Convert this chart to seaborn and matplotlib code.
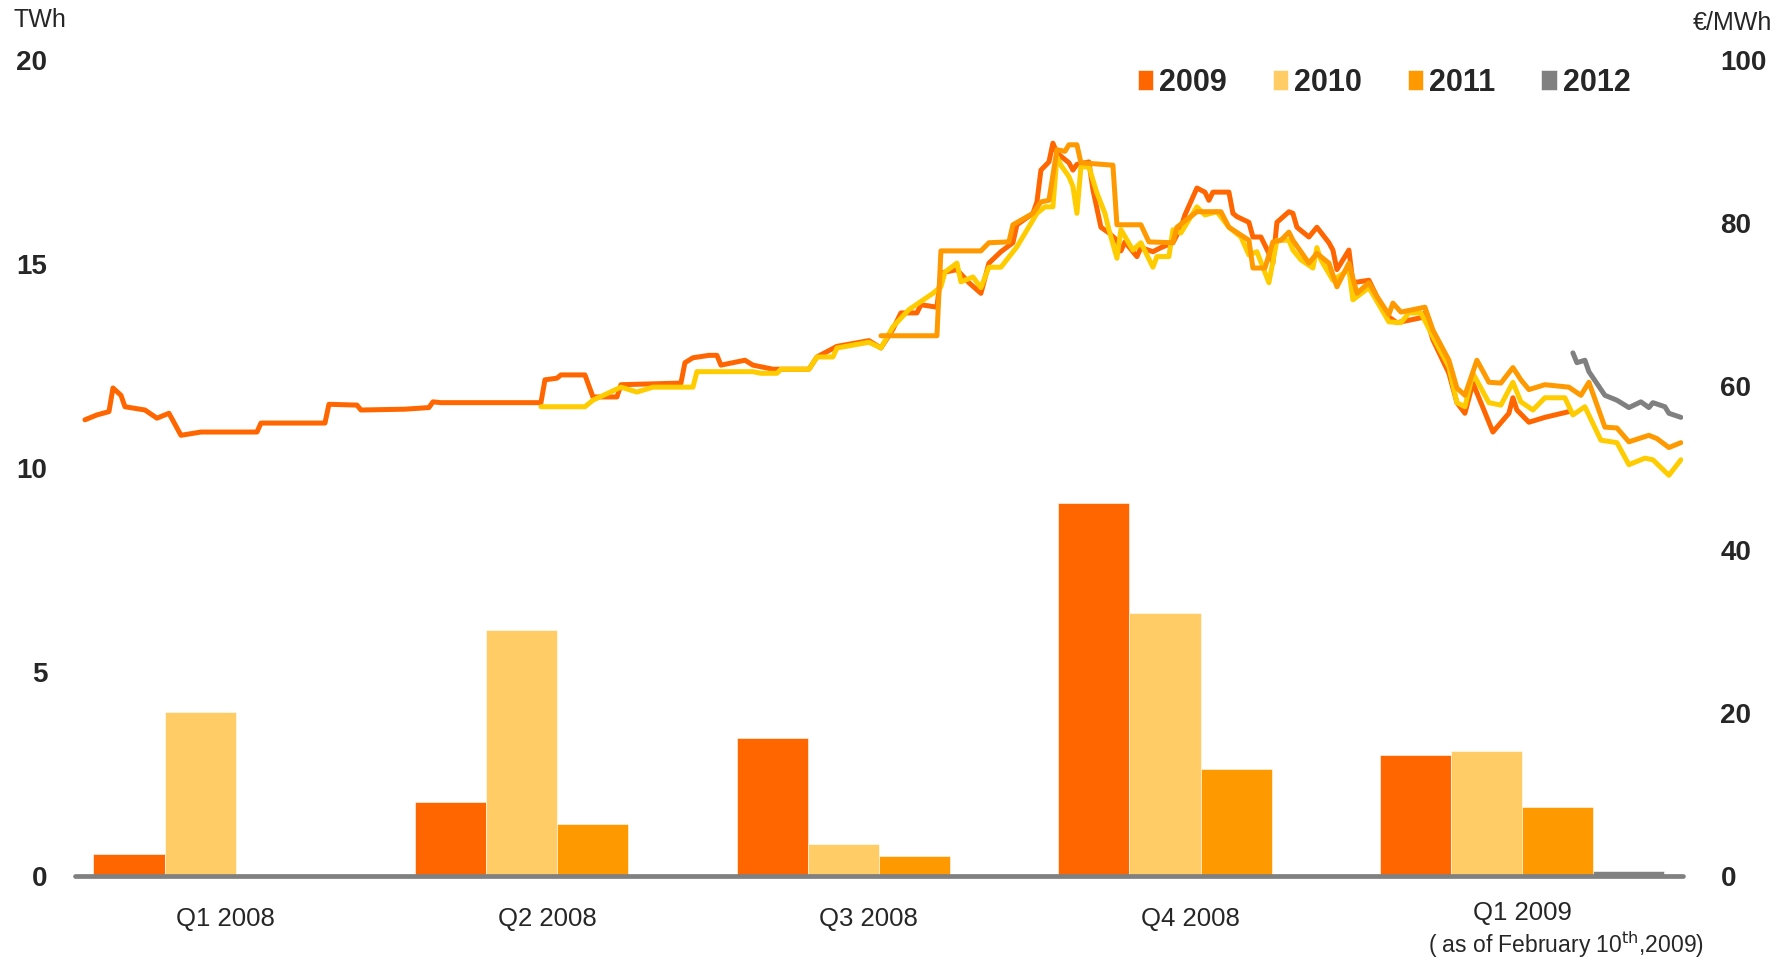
import numpy as np
import pandas as pd
import matplotlib
matplotlib.use("Agg")
import matplotlib.pyplot as plt
import matplotlib.transforms as mtransforms
import seaborn as sns

# ------------------------------------------------------------------
# data
# ------------------------------------------------------------------
quarters = ["Q1 2008", "Q2 2008", "Q3 2008", "Q4 2008", "Q1 2009"]
years = ["2009", "2010", "2011", "2012"]

# hedged volumes, TWh (left axis)
twh_2009 = [0.53, 1.82, 3.38, 9.13, 2.96]
twh_2010 = [4.02, 6.03, 0.78, 6.45, 3.07]
twh_2011 = [0.0, 1.28, 0.50, 2.63, 1.68]
twh_2012 = [0.0, 0.0, 0.0, 0.0, 0.11]

# forward prices, EUR/MWh (right axis); day = days since 1 Jan 2008
day_2009 = [1, 4, 7, 8, 10, 11, 16, 19, 22, 25, 30, 44, 45, 61, 62, 69, 70, 81, 87, 88,
            90, 115, 116, 119, 120, 126, 128, 134, 135, 150, 151, 153, 157, 159, 160, 166, 168, 173, 182, 184,
            189, 197, 200, 203, 205, 209, 210, 214, 215, 219, 222, 225, 227, 230, 233, 234, 238, 239, 240, 242,
            243, 244, 247, 248, 249, 252, 253, 255, 257, 259, 260, 261, 264, 265, 268, 270, 273, 275, 276, 279,
            281, 282, 283, 287, 288, 289, 292, 293, 295, 297, 298, 299, 302, 303, 304, 307, 309, 312, 313, 314,
            317, 318, 322, 324, 327, 329, 335, 336, 338, 342, 344, 346, 348, 353, 357, 358, 359, 362, 366, 372]
price_2009 = [55.9, 56.5, 56.9, 59.8, 58.9, 57.5, 57.1, 56.1, 56.7, 54.0, 54.4, 54.4, 55.5, 55.5, 57.8, 57.7, 57.1, 57.2, 57.4, 58.1,
              58.0, 58.0, 60.8, 61.0, 61.4, 61.4, 58.7, 58.7, 60.2, 60.4, 62.9, 63.5, 63.8, 63.8, 62.6, 63.2, 62.6, 62.1, 62.1, 63.6,
              64.9, 65.6, 64.7, 67.0, 69.0, 69.0, 70.0, 69.7, 73.9, 74.3, 72.7, 71.4, 75.1, 76.5, 77.6, 79.8, 81.2, 82.6, 86.5, 87.5,
              89.8, 88.6, 87.4, 86.5, 87.2, 87.5, 84.1, 79.5, 78.8, 77.9, 76.6, 77.7, 75.9, 77.0, 76.5, 77.0, 77.6, 79.5, 81.0, 84.3,
              83.8, 82.8, 83.8, 83.8, 81.2, 80.8, 80.1, 78.3, 78.3, 76.3, 75.1, 80.1, 81.4, 81.2, 79.5, 78.3, 79.5, 77.6, 76.7, 74.3,
              76.7, 72.7, 73.0, 71.0, 68.5, 67.8, 68.4, 69.0, 65.7, 61.6, 58.0, 56.7, 60.4, 54.4, 56.7, 58.6, 57.1, 55.6, 56.2, 56.9]

day_2010 = [115, 126, 128, 135, 139, 143, 153, 154, 168, 170, 174, 175, 182, 184, 188, 189, 197, 200, 203, 207,
            213, 215, 216, 219, 220, 223, 225, 227, 230, 234, 239, 241, 243, 244, 245, 247, 248, 249, 250, 252,
            254, 256, 257, 259, 260, 263, 265, 268, 269, 272, 273, 275, 279, 281, 284, 287, 290, 292, 294, 297,
            299, 302, 303, 305, 308, 309, 310, 313, 317, 318, 322, 327, 330, 332, 335, 338, 342, 344, 346, 348,
            352, 355, 358, 360, 363, 366, 371, 373, 376, 380, 384, 387, 391, 393, 397, 400]
price_2010 = [57.5, 57.5, 58.3, 59.9, 59.3, 59.9, 59.9, 61.8, 61.8, 61.6, 61.6, 62.1, 62.1, 63.6, 63.6, 64.7, 65.4, 64.7, 67.3, 69.4,
              71.4, 72.2, 74.0, 75.1, 72.8, 73.4, 72.1, 74.6, 74.6, 77.1, 81.2, 82.0, 82.0, 88.1, 87.1, 85.7, 84.5, 81.2, 86.9, 86.9,
              83.7, 81.2, 79.2, 75.7, 79.2, 76.7, 77.6, 74.6, 75.9, 75.9, 79.2, 78.8, 82.0, 81.0, 81.4, 79.5, 78.3, 76.1, 76.5, 72.7,
              77.9, 77.9, 76.7, 75.5, 74.5, 77.0, 75.5, 73.0, 74.3, 70.6, 72.1, 67.9, 67.8, 69.0, 69.0, 66.1, 62.4, 58.0, 57.5, 61.6,
              58.0, 57.7, 60.5, 58.1, 57.1, 58.6, 58.6, 56.5, 57.5, 53.4, 53.1, 50.4, 51.2, 51.0, 49.1, 51.0]

day_2011 = [200, 214, 215, 225, 227, 232, 233, 238, 240, 242, 244, 246, 247, 249, 250, 258, 259, 265, 267, 273,
            274, 279, 285, 287, 292, 293, 296, 298, 300, 302, 303, 307, 309, 312, 314, 317, 319, 322, 324, 327,
            328, 330, 336, 338, 342, 344, 346, 349, 352, 355, 358, 360, 362, 366, 372, 375, 377, 381, 384, 387,
            392, 394, 397, 400]
price_2011 = [66.2, 66.2, 76.6, 76.6, 77.6, 77.7, 79.8, 81.2, 82.6, 82.8, 89.0, 88.8, 89.6, 89.6, 87.4, 87.1, 79.8, 79.8, 77.7, 77.6,
              79.5, 81.4, 81.4, 79.5, 77.9, 74.5, 74.5, 77.7, 77.9, 78.9, 77.9, 75.1, 76.3, 75.1, 72.2, 75.1, 71.4, 72.7, 71.0, 68.8,
              70.2, 69.1, 69.7, 66.9, 63.2, 59.8, 58.9, 63.2, 60.5, 60.4, 62.3, 60.8, 59.6, 60.2, 59.9, 58.9, 60.5, 55.0, 54.9, 53.2,
              54.0, 53.6, 52.5, 53.1]

day_2012 = [373, 374, 376, 377, 381, 384, 387, 390, 392, 393, 396, 397, 400]
price_2012 = [64.1, 62.9, 63.2, 61.8, 58.9, 58.3, 57.4, 58.1, 57.4, 58.0, 57.5, 56.7, 56.2]

bar_colors = ["#FF6600", "#FFCC66", "#FF9900", "#808080"]
line_colors = ["#FF6600", "#FFCC00", "#FF9900", "#808080"]

# ------------------------------------------------------------------
# style
# ------------------------------------------------------------------
sns.set_theme(style="white")
plt.rcParams["font.family"] = ["Liberation Sans", "DejaVu Sans"]

bars = pd.DataFrame({
    "quarter": np.repeat(quarters, len(years)),
    "year": years * len(quarters),
    "twh": np.column_stack([twh_2009, twh_2010, twh_2011, twh_2012]).ravel(),
})
lines = pd.concat([
    pd.DataFrame({"day": d, "price": p, "year": y})
    for d, p, y in [(day_2009, price_2009, "2009"), (day_2010, price_2010, "2010"),
                    (day_2011, price_2011, "2011"), (day_2012, price_2012, "2012")]
], ignore_index=True)

fig = plt.figure(figsize=(17.85, 9.59), dpi=100)
rect = [0.042, 0.0866, 0.9008, 0.8509]
ax = fig.add_axes(rect)

sns.barplot(data=bars, x="quarter", y="twh", hue="year", hue_order=years,
            palette=bar_colors, saturation=1, width=0.885, gap=0,
            edgecolor="white", linewidth=0.4, ax=ax)
ax.axhline(0, color="#808080", lw=3.4, zorder=5, clip_on=False)
ax.set_xlim(-0.5, 4.5)
ax.set_ylim(0, 20)
ax.set_yticks([0, 5, 10, 15, 20])
ax.set_xlabel("")
ax.set_ylabel("")
sns.despine(ax=ax, left=True, bottom=True)
ax.tick_params(axis="x", length=0, pad=22, labelsize=18.5)
ax.tick_params(axis="y", length=0, pad=20, labelsize=20)
for lab in ax.get_yticklabels():
    lab.set_fontweight("bold")

# quarter labels sit a little left of the group centres, last one a bit higher
for i, lab in enumerate(ax.get_xticklabels()):
    if i < 4:
        shift = mtransforms.ScaledTranslation(-0.10, 0, fig.dpi_scale_trans)
    else:
        shift = mtransforms.ScaledTranslation(0, 0.06, fig.dpi_scale_trans)
    lab.set_transform(lab.get_transform() + shift)

sns.move_legend(ax, "center left", bbox_to_anchor=(0.661, 0.972), ncol=4,
                frameon=False, title=None, borderpad=0, borderaxespad=0,
                handlelength=0.5, handleheight=0.65, handletextpad=0.2,
                columnspacing=1.5, prop={"weight": "bold", "size": 22})

# price lines on their own overlaid axes, right scale
ax2 = fig.add_axes(rect, frameon=False)
sns.lineplot(data=lines, x="day", y="price", hue="year", hue_order=years,
             palette=line_colors, estimator=None, sort=False, lw=3.6,
             legend=False, ax=ax2)
ax2.set_xlim(-1.5, 400.5)
ax2.set_ylim(0, 100)
ax2.set_yticks([0, 20, 40, 60, 80, 100])
ax2.set_xticks([])
ax2.set_xlabel("")
ax2.set_ylabel("")
ax2.yaxis.tick_right()
ax2.tick_params(axis="y", length=0, pad=27, labelsize=20)
for lab in ax2.get_yticklabels():
    lab.set_fontweight("bold")
ax2.patch.set_visible(False)

# units and note
fig.text(0.0078, 1 - 20 / 959, "TWh", fontsize=18, ha="left", va="center")
fig.text(0.9485, 1 - 23 / 959, "€/MWh", fontsize=18, ha="left", va="center")
trans = mtransforms.blended_transform_factory(ax.transData, ax.transAxes)
ax.text(4.136, -0.0846, "( as of February 10$^{\\mathrm{th}}$,2009)", transform=trans,
        ha="center", va="center", fontsize=16.5)

fig.savefig("out.png", dpi=100)
